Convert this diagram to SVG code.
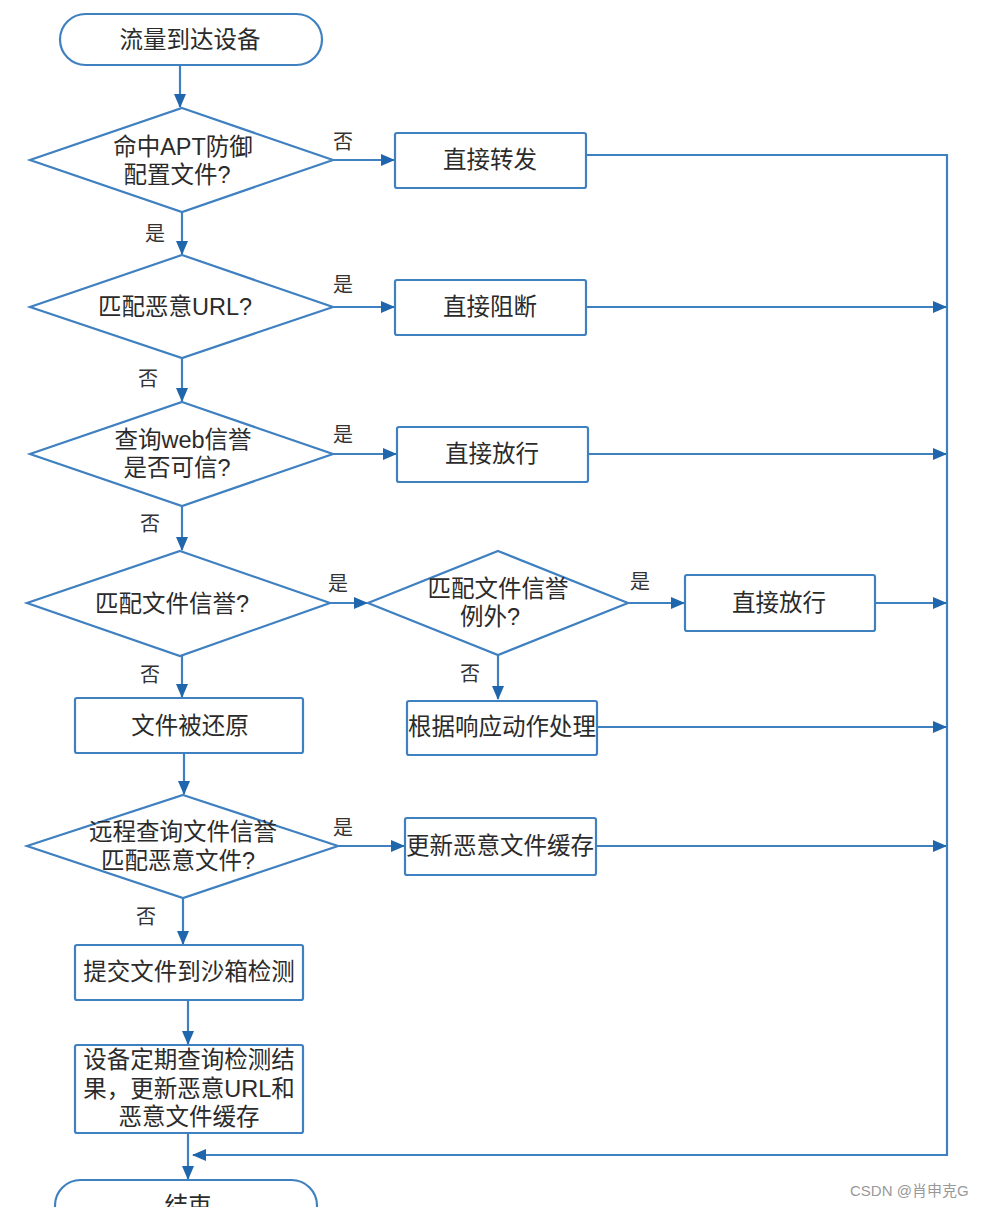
<svg xmlns="http://www.w3.org/2000/svg" width="983" height="1207" viewBox="0 0 983 1207">
<style>
.s{fill:#fff;stroke:#3f80c0;stroke-width:2.2}
.c{fill:none;stroke:#3f80c0;stroke-width:2.2}
.t{font-family:"Liberation Sans","Noto Sans CJK SC",sans-serif;font-size:23.5px;fill:#2b2b2b;text-anchor:middle;dominant-baseline:central}
.l{font-family:"Noto Sans CJK SC",sans-serif;font-size:20px;fill:#333;text-anchor:middle;dominant-baseline:central}
.w{font-family:"Liberation Sans","Noto Sans CJK SC",sans-serif;font-size:15px;fill:#999;dominant-baseline:central}
</style>
<defs>
<marker id="a" markerUnits="userSpaceOnUse" markerWidth="14" markerHeight="12" viewBox="0 0 14 12" refX="13" refY="6" orient="auto">
<path d="M0,0 L14,6 L0,12 Z" fill="#1f66ad"/>
</marker>
</defs>
<rect width="983" height="1207" fill="#fff"/>
<g id="connectors">
<path class="c" d="M180,65 V107" marker-end="url(#a)"/>
<path class="c" d="M333,160 H394" marker-end="url(#a)"/>
<path class="c" d="M587,155 H947 V1155 H193" marker-end="url(#a)"/>
<path class="c" d="M182,212 V254" marker-end="url(#a)"/>
<path class="c" d="M333,307 H394" marker-end="url(#a)"/>
<path class="c" d="M587,307 H946" marker-end="url(#a)"/>
<path class="c" d="M182,358 V401" marker-end="url(#a)"/>
<path class="c" d="M333,454 H396" marker-end="url(#a)"/>
<path class="c" d="M588,454 H946" marker-end="url(#a)"/>
<path class="c" d="M182,506 V550" marker-end="url(#a)"/>
<path class="c" d="M330,603 H367" marker-end="url(#a)"/>
<path class="c" d="M628,603 H684" marker-end="url(#a)"/>
<path class="c" d="M875,603 H946" marker-end="url(#a)"/>
<path class="c" d="M498,655 V699" marker-end="url(#a)"/>
<path class="c" d="M597,727 H946" marker-end="url(#a)"/>
<path class="c" d="M182,656 V697" marker-end="url(#a)"/>
<path class="c" d="M184,753 V794" marker-end="url(#a)"/>
<path class="c" d="M338,846 H404" marker-end="url(#a)"/>
<path class="c" d="M596,846 H946" marker-end="url(#a)"/>
<path class="c" d="M183,898 V944" marker-end="url(#a)"/>
<path class="c" d="M188,1000 V1044" marker-end="url(#a)"/>
<path class="c" d="M188,1133 V1179" marker-end="url(#a)"/>
</g>
<g id="labels">
<text class="l" x="343" y="140">否</text>
<text class="l" x="155" y="232">是</text>
<text class="l" x="343" y="283">是</text>
<text class="l" x="148" y="377">否</text>
<text class="l" x="343" y="433">是</text>
<text class="l" x="150" y="522">否</text>
<text class="l" x="338" y="582">是</text>
<text class="l" x="640" y="580">是</text>
<text class="l" x="470" y="672">否</text>
<text class="l" x="150" y="673">否</text>
<text class="l" x="343" y="826">是</text>
<text class="l" x="146" y="915">否</text>
</g>
<g id="start">
<rect class="s" x="60" y="14" width="262" height="51" rx="25.5"/>
<text class="t" x="190" y="40">流量到达设备</text>
</g>
<g id="d1">
<polygon class="s" points="182,108 333,160 182,212 30,160"/>
<text class="t" x="183" y="147">命中APT防御</text>
<text class="t" x="177" y="175">配置文件?</text>
</g>
<g id="b1">
<rect class="s" x="395" y="133" width="191" height="55" rx="2"/>
<text class="t" x="490" y="160">直接转发</text>
</g>
<g id="d2">
<polygon class="s" points="182,255 333,307 182,358 30,307"/>
<text class="t" x="175" y="307">匹配恶意URL?</text>
</g>
<g id="b2">
<rect class="s" x="395" y="280" width="191" height="55" rx="2"/>
<text class="t" x="490" y="307">直接阻断</text>
</g>
<g id="d3">
<polygon class="s" points="182,402 333,454 182,506 30,454"/>
<text class="t" x="183" y="440">查询web信誉</text>
<text class="t" x="177" y="468">是否可信?</text>
</g>
<g id="b3">
<rect class="s" x="397" y="427" width="191" height="55" rx="2"/>
<text class="t" x="492" y="454">直接放行</text>
</g>
<g id="d4">
<polygon class="s" points="180,551 330,603 180,656 27,603"/>
<text class="t" x="172" y="604">匹配文件信誉?</text>
</g>
<g id="d5">
<polygon class="s" points="498,551 628,603 498,655 368,603"/>
<text class="t" x="498" y="589">匹配文件信誉</text>
<text class="t" x="490" y="617">例外?</text>
</g>
<g id="b4">
<rect class="s" x="685" y="575" width="190" height="56" rx="2"/>
<text class="t" x="779" y="603">直接放行</text>
</g>
<g id="b5">
<rect class="s" x="407" y="701" width="190" height="54" rx="2"/>
<text class="t" x="502" y="727">根据响应动作处理</text>
</g>
<g id="b6">
<rect class="s" x="75" y="698" width="228" height="55" rx="2"/>
<text class="t" x="190" y="726">文件被还原</text>
</g>
<g id="d6">
<polygon class="s" points="183,795 338,846 183,898 27,846"/>
<text class="t" x="183" y="832">远程查询文件信誉</text>
<text class="t" x="178" y="861">匹配恶意文件?</text>
</g>
<g id="b7">
<rect class="s" x="405" y="818" width="191" height="57" rx="2"/>
<text class="t" x="500" y="846">更新恶意文件缓存</text>
</g>
<g id="b8">
<rect class="s" x="75" y="945" width="228" height="55" rx="2"/>
<text class="t" x="189" y="972">提交文件到沙箱检测</text>
</g>
<g id="b9">
<rect class="s" x="75" y="1045" width="228" height="88" rx="2"/>
<text class="t" x="189" y="1060">设备定期查询检测结</text>
<text class="t" x="189" y="1089">果，更新恶意URL和</text>
<text class="t" x="189" y="1117">恶意文件缓存</text>
</g>
<g id="end">
<rect class="s" x="55" y="1180" width="262" height="51" rx="25.5"/>
<text class="t" x="188" y="1206">结束</text>
</g>
<text class="w" x="850" y="1190">CSDN @肖申克G</text>
</svg>
